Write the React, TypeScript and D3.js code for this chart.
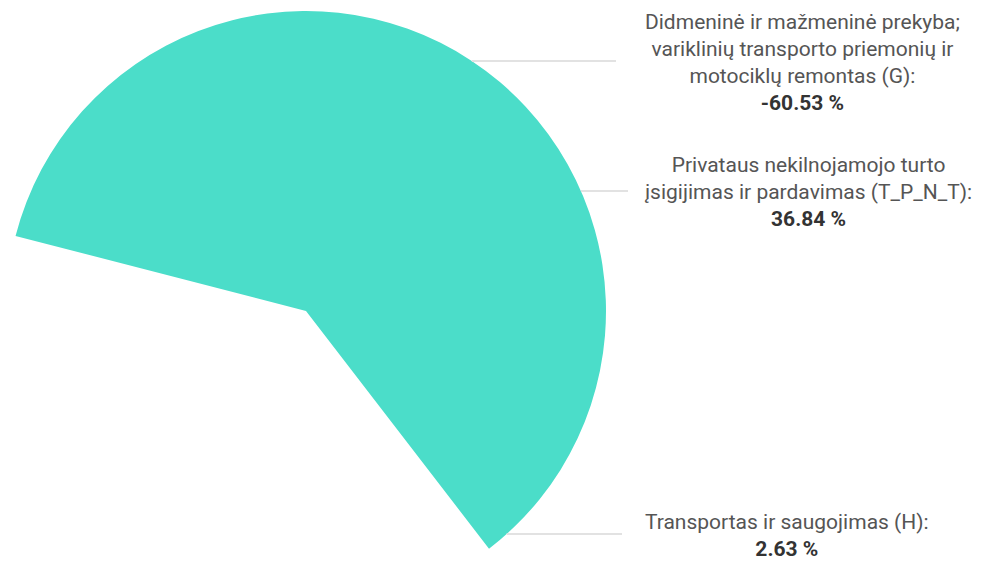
import React from "react";
import * as d3 from "d3";

const categories = [
  "Didmeninė ir mažmeninė prekyba; variklinių transporto priemonių ir motociklų remontas (G)",
  "Privataus nekilnojamojo turto įsigijimas ir pardavimas (T_P_N_T)",
  "Transportas ir saugojimas (H)",
];
const labelLines = [
  ["Didmeninė ir mažmeninė prekyba;", "variklinių transporto priemonių ir", "motociklų remontas (G):"],
  ["Privataus nekilnojamojo turto", "įsigijimas ir pardavimas (T_P_N_T):"],
  ["Transportas ir saugojimas (H):"],
];
const percents = [-60.53, 36.84, 2.63];
const colors = ["#4BDDC9", "none", "none"];

const labelY = [61, 191, 534];
const lineEnds = [616, 628, 622];

const W = 1006;
const H = 561;
const cx = 306;
const cy = 311;
const R = 300;
const FONT = "Roboto, 'Noto Sans', sans-serif";
const FS = 21;
const LH = 27;

function measure(text: string, bold = false): number {
  if (typeof document === "undefined") return text.length * 9.5;
  const c = document.createElement("canvas").getContext("2d");
  if (!c) return text.length * 9.5;
  c.font = `${bold ? "bold " : ""}${FS}px Roboto`;
  return c.measureText(text).width;
}

export default function App() {
  const startDeg = -75.5;
  const pie = d3
    .pie<number>()
    .sort(null)
    .value((d) => Math.abs(d))
    .startAngle((startDeg * Math.PI) / 180)
    .endAngle((startDeg * Math.PI) / 180 + 2 * Math.PI);
  const arcs = pie(percents);
  const arc = d3.arc<d3.PieArcDatum<number>>().innerRadius(0).outerRadius(R);

  const blockLeft = 645;

  return (
    <svg width={W} height={H} style={{ position: "absolute", left: 0, top: 0 }}>
      <rect width={W} height={H} fill="#fff" />
      <g transform={`translate(${cx},${cy})`}>
        {arcs.map((a, i) => (
          <path key={i} d={arc(a) || ""} fill={colors[i]} />
        ))}
      </g>
      {labelY.map((y, i) => {
        const dy = y - cy;
        const x0 = cx + Math.sqrt(Math.max(0, R * R - dy * dy));
        return (
          <line key={"l" + i} x1={x0} x2={lineEnds[i]} y1={y} y2={y} stroke="#e2e2e2" strokeWidth={2} />
        );
      })}
      {labelLines.map((lines, i) => {
        const val = `${percents[i].toFixed(2)} %`;
        const all = [...lines, val];
        const maxW = Math.max(...lines.map((t) => measure(t)), measure(val, true));
        const mid = blockLeft + maxW / 2;
        const n = all.length;
        const yc = labelY[i] + 1;
        return (
          <g key={"t" + i} fontFamily={FONT} fontSize={FS} textAnchor="middle">
            {all.map((t, j) => (
              <text
                key={j}
                x={mid}
                y={yc + (j - (n - 1) / 2) * LH}
                dominantBaseline="central"
                fill={j === n - 1 ? "#333" : "#555"}
                fontWeight={j === n - 1 ? "bold" : "normal"}
              >
                {t}
              </text>
            ))}
          </g>
        );
      })}
    </svg>
  );
}
